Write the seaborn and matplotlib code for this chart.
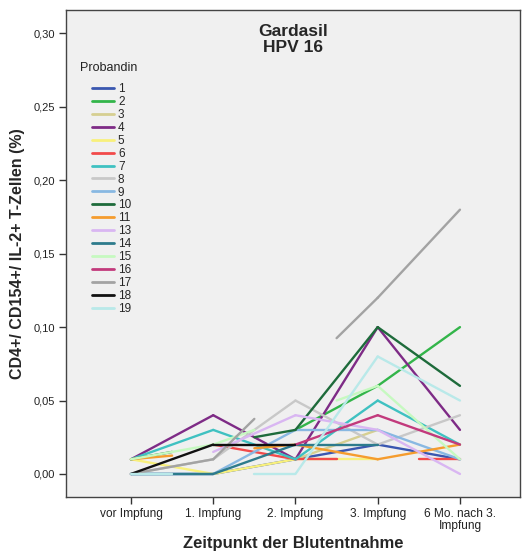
import numpy as np
import pandas as pd
import matplotlib
matplotlib.use("Agg")
import matplotlib.pyplot as plt
import seaborn as sns

# ---- data ----
timepoints = ["vor Impfung", "1. Impfung", "2. Impfung", "3. Impfung", "6 Mo. nach 3.\nImpfung"]
probanden = ["1", "2", "3", "4", "5", "6", "7", "8", "9", "10", "11", "13", "14", "15", "16", "17", "18", "19"]
nan = np.nan
p1 = [0.00, 0.00, 0.01, 0.02, 0.01]
p2 = [nan, nan, 0.03, 0.06, 0.10]
p3 = [nan, nan, 0.01, 0.03, nan]
p4 = [0.01, 0.04, 0.01, 0.10, 0.03]
p5 = [0.01, 0.00, 0.01, 0.01, nan]
p6 = [nan, 0.02, 0.01, nan, 0.01]
p7 = [0.01, 0.03, 0.01, 0.05, 0.02]
p8 = [0.00, 0.01, 0.05, 0.02, 0.04]
p9 = [0.00, 0.00, 0.03, 0.03, 0.01]
p10 = [0.01, nan, 0.03, 0.10, 0.06]
p11 = [0.01, nan, 0.02, 0.01, 0.02]
p13 = [nan, 0.015, 0.04, 0.03, 0.00]
p14 = [0.00, 0.00, 0.02, 0.02, nan]
p15 = [0.01, 0.02, nan, 0.06, 0.01]
p16 = [nan, nan, 0.02, 0.04, 0.02]
p17 = [0.00, 0.01, nan, 0.12, 0.18]
p18 = [0.00, 0.02, 0.02, nan, nan]
p19 = [0.00, nan, 0.00, 0.08, 0.05]
series = [p1, p2, p3, p4, p5, p6, p7, p8, p9, p10, p11, p13, p14, p15, p16, p17, p18, p19]
colors = ["#3a57b0", "#33b54a", "#d6cf91", "#7e2b86", "#f8f07c", "#f24a4a", "#3fc1c1",
          "#c8c8c8", "#88b8e2", "#1e6b3b", "#f59c2e", "#d9b6f2", "#2d7b8c", "#c6f9c0",
          "#c23a7c", "#a3a3a3", "#111111", "#b9e9e9"]
yticks = [0.00, 0.05, 0.10, 0.15, 0.20, 0.25, 0.30]

# ---- build segments (SPSS style: gaps with half "wings" toward missing points) ----
rows = []
for name, vals in zip(probanden, series):
    v = pd.Series(vals, dtype=float)
    w = v.interpolate(limit_area="inside")
    seg = 0
    for i in range(len(v) - 1):
        a, b = v[i], v[i + 1]
        if not np.isnan(a) and not np.isnan(b):
            pts = [(i, a), (i + 1, b)]
        elif not np.isnan(a) and not np.isnan(w[i + 1]):
            pts = [(i, a), (i + 0.5, (a + w[i + 1]) / 2)]
        elif not np.isnan(b) and not np.isnan(w[i]):
            pts = [(i + 0.5, (w[i] + b) / 2), (i + 1, b)]
        else:
            continue
        for x, y in pts:
            rows.append({"Probandin": name, "seg": f"{name}_{seg}", "x": x, "y": y})
        seg += 1
df = pd.DataFrame(rows)

sns.set_style("white")
plt.rcParams["font.family"] = ["Liberation Sans", "DejaVu Sans"]

fig = plt.figure(figsize=(5.28, 5.59), dpi=100)
ax = fig.add_axes([66 / 528, 1 - 497 / 559, (520 - 66) / 528, (497 - 10) / 559])
ax.set_facecolor("#f0f0f0")

sns.lineplot(data=df, x="x", y="y", hue="Probandin", hue_order=probanden,
             palette=dict(zip(probanden, colors)), units="seg", estimator=None,
             linewidth=1.7, ax=ax, sort=False)

ax.set_xlim(-0.79, 4.73)
ax.set_ylim(-0.0157, 0.316)
ax.set_xticks(range(len(timepoints)))
ax.set_xticklabels(timepoints, fontsize=8.6, color="#222222", linespacing=1.0)
ax.set_yticks(yticks)
ax.set_yticklabels([f"{t:.2f}".replace(".", ",") for t in yticks], fontsize=8, color="#222222")
ax.tick_params(axis="both", direction="out", length=5, width=1, color="#333333", pad=3,
               bottom=True, left=True)
for s in ax.spines.values():
    s.set_color("#444444")
    s.set_linewidth(1.0)

ax.set_xlabel("Zeitpunkt der Blutentnahme", fontsize=12, fontweight="bold", labelpad=3)
ax.set_ylabel("CD4+/ CD154+/ IL-2+ T-Zellen (%)", fontsize=11.5, fontweight="bold", labelpad=6)
ax.text(0.5, 0.972, "Gardasil\nHPV 16", transform=ax.transAxes, ha="center", va="top",
        fontsize=12.5, fontweight="bold", linespacing=1.1)

handles, labels = ax.get_legend_handles_labels()
leg = ax.legend(handles, labels, frameon=False, loc="upper left",
                bbox_to_anchor=(26 / 454, 1 - 73 / 487), fontsize=8.5,
                handlelength=1.9, handletextpad=0.3, labelspacing=0.08,
                borderaxespad=0, borderpad=0)
for h in leg.get_lines():
    h.set_linewidth(2)
ax.text(14 / 454, 1 - 52 / 487, "Probandin", transform=ax.transAxes, ha="left", va="top",
        fontsize=9, color="#222222")

fig.savefig("out.png", dpi=100, facecolor="white")
